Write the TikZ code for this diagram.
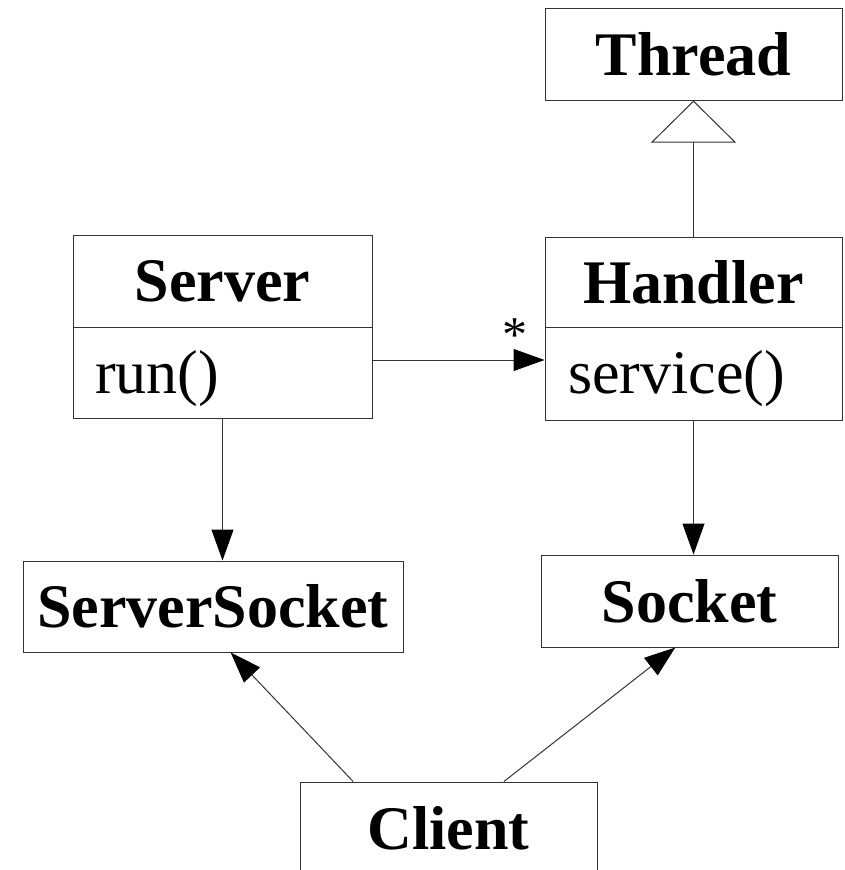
\documentclass[tikz,border=0pt]{standalone}
\usepackage{fontspec}
\setmainfont{Liberation Serif}
\usetikzlibrary{arrows.meta}
\tikzset{
  classe/.style={draw=black!80, line width=1pt, inner sep=0pt, font=\bfseries\fontsize{62}{62}\selectfont},
  metodo/.style={inner sep=0pt, anchor=west, font=\fontsize{62}{62}\selectfont},
  freccia/.style={draw=black!80, line width=1pt, -{Triangle[length=31pt,width=22pt,color=black]}},
  eredita/.style={draw=black!80, line width=1pt, -{Triangle[open,length=42pt,width=85pt,fill=white]}}
}
\begin{document}
\begin{tikzpicture}[x=1pt,y=-1pt]
   \useasboundingbox (0,0) rectangle (845,870);
   \clip (0,0) rectangle (845,870);
   %classi
   \node[classe, minimum width=297pt, minimum height=92pt] (thread) at (693.5,54) {Thread};
   \node[classe, minimum width=299pt, minimum height=92pt] (server) at (222.5,281) {Server};
   \node[classe, minimum width=299pt, minimum height=91pt] (serverops) at (222.5,372.5) {};
   \node[metodo] (run) at (95,379) {run()};
   \node[classe, minimum width=297pt, minimum height=90pt] (handler) at (693.5,282) {Handler};
   \node[classe, minimum width=297pt, minimum height=93pt] (handlerops) at (693.5,373.5) {};
   \node[metodo] (service) at (568,379) {service()};
   \node[classe, minimum width=380pt, minimum height=91pt] (ssock) at (213,606.5) {ServerSocket};
   \node[classe, minimum width=297pt, minimum height=92pt] (sock) at (689.5,601) {Socket};
   \node[classe, minimum width=297pt, minimum height=92pt] (client) at (448.5,828) {Client};
   %relazioni
   \draw[eredita] (handler) -- (thread);
   \draw[freccia] ([yshift=12.5pt]serverops.east) -- ([yshift=12.5pt]serverops.east -| handlerops.west);
   \node[inner sep=0pt, font=\fontsize{50}{50}\selectfont] (molt) at (515,335) {*};
   \draw[freccia] (serverops.south) -- (serverops.south |- ssock.north);
   \draw[freccia] (handlerops.south) -- (handlerops.south |- sock.north);
   \draw[freccia] (client.154.5) -- (ssock.-69.5);
   \draw[freccia] (client.40.2) -- (sock.-107.5);
\end{tikzpicture}
\end{document}
